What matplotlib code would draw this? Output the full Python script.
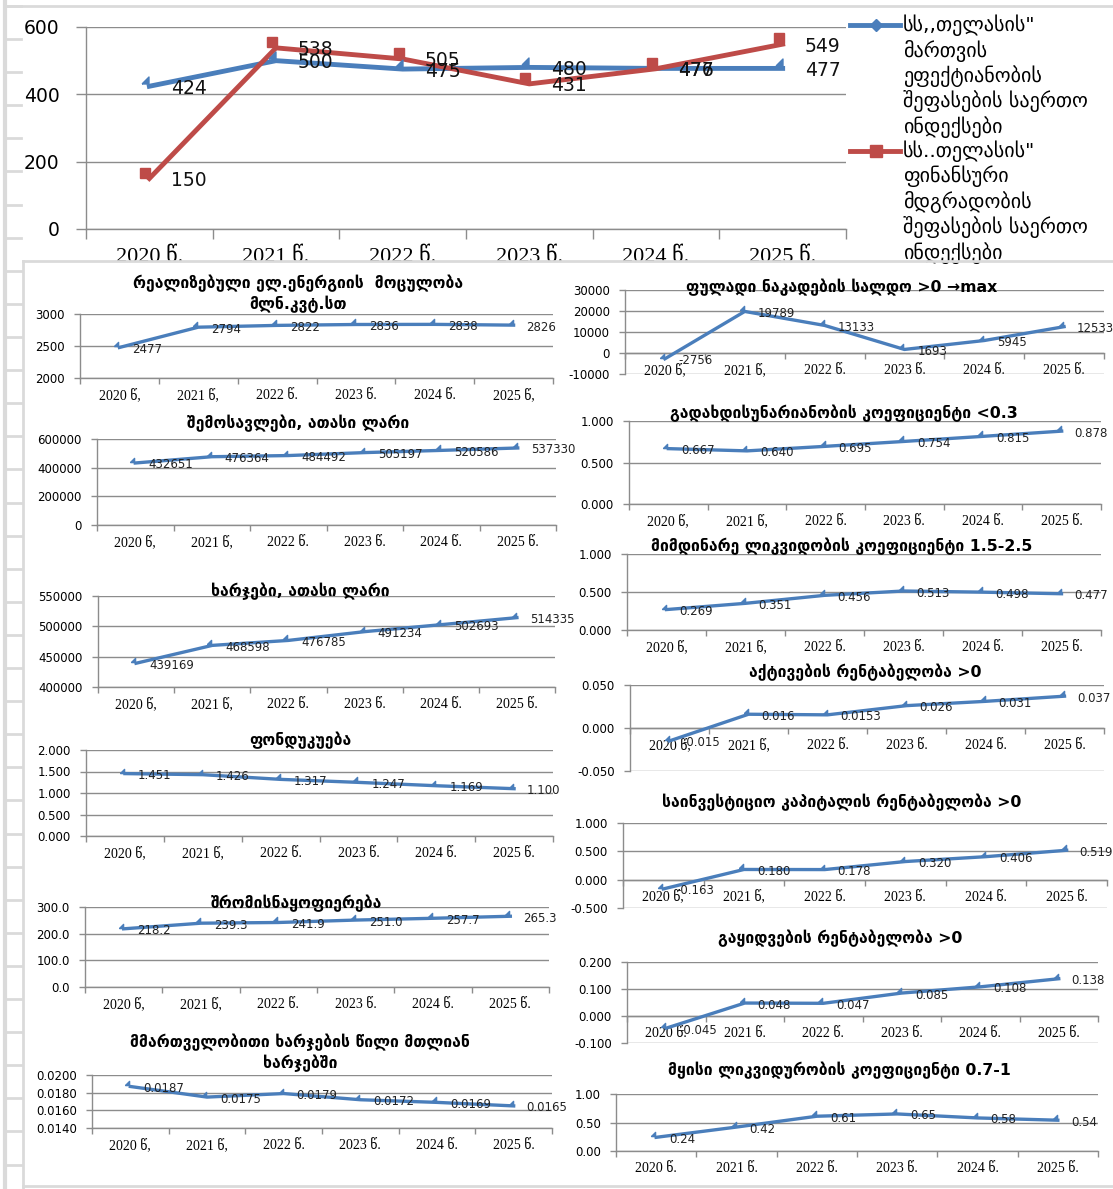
import matplotlib
matplotlib.use("Agg")
import matplotlib.pyplot as plt
from matplotlib.lines import Line2D
from matplotlib.patches import Rectangle
from matplotlib.transforms import offset_copy
from matplotlib.ticker import FixedLocator, FormatStrFormatter, NullFormatter

plt.rcParams['font.family'] = ['DejaVu Sans']

# ---- data ----
years_top = ["2020 წ.", "2021 წ.", "2022 წ.", "2023 წ.", "2024 წ.", "2025 წ."]
years_mix = ["2020 წ,", "2021 წ,", "2022 წ.", "2023 წ.", "2024 წ.", "2025 წ."]
years_elec = ["2020 წ,", "2021 წ,", "2022 წ.", "2023 წ.", "2024 წ.", "2025 წ,"]
years_dot = years_top

mgmt_index = [424, 500, 475, 480, 477, 477]
fin_index = [150, 538, 505, 431, 476, 549]
legend_mgmt = ['სს,,თელასის"', 'მართვის', 'ეფექტიანობის', 'შეფასების საერთო', 'ინდექსები']
legend_fin = ['სს..თელასის"', 'ფინანსური', 'მდგრადობის', 'შეფასების საერთო', 'ინდექსები']

electricity = [2477, 2794, 2822, 2836, 2838, 2826]
revenue = [432651, 476364, 484492, 505197, 520586, 537330]
expenses = [439169, 468598, 476785, 491234, 502693, 514335]
fund_return = [1.451, 1.426, 1.317, 1.247, 1.169, 1.100]
labor_prod = [218.2, 239.3, 241.9, 251.0, 257.7, 265.3]
mgmt_share = [0.0187, 0.0175, 0.0179, 0.0172, 0.0169, 0.0165]
cash_flow = [-2756, 19789, 13133, 1693, 5945, 12533]
solvency = [0.667, 0.640, 0.695, 0.754, 0.815, 0.878]
current_liq = [0.269, 0.351, 0.456, 0.513, 0.498, 0.477]
roa = [-0.015, 0.016, 0.0153, 0.026, 0.031, 0.037]
roic = [-0.163, 0.180, 0.178, 0.320, 0.406, 0.519]
ros = [-0.045, 0.048, 0.047, 0.085, 0.108, 0.138]
quick_liq = [0.24, 0.42, 0.61, 0.65, 0.58, 0.54]

W, H = 1113, 1189
BLUE = '#4A7EBB'
RED = '#BE4B48'
GRID = '#8C8C8C'
SHEET = '#DADADA'
YEAR_FONT = ['Liberation Serif', 'DejaVu Sans']

fig = plt.figure(figsize=(W / 100, H / 100), dpi=100)


def box(l, t, r, b):
    return [l / W, 1 - b / H, (r - l) / W, (b - t) / H]


def fx(x):
    return x / W


def fy(y):
    return 1 - y / H


wedge = [(-1, -1), (1, -1), (1, 1), (-1, -1)]


def style_axes(ax, cats, ylim, step, tick_fmt, fs, yearfs, tlen, ypad, xpad, zero_axis):
    # spine position first: moving it resets the tick settings
    if zero_axis:
        ax.spines['bottom'].set_position(('data', 0))
    lo, hi = ylim
    n = len(cats)
    ax.set_xlim(0, n)
    ax.set_ylim(lo, hi)
    yt = []
    v = lo
    while v <= hi + step * 1e-6:
        yt.append(v)
        v += step
    ax.yaxis.set_major_locator(FixedLocator(yt))
    ax.yaxis.set_major_formatter(FormatStrFormatter(tick_fmt))
    ax.grid(axis='y', color=GRID, lw=1)
    ax.set_axisbelow(True)
    ax.xaxis.set_major_locator(FixedLocator(range(n + 1)))
    ax.xaxis.set_major_formatter(NullFormatter())
    ax.xaxis.set_minor_locator(FixedLocator([i + 0.5 for i in range(n)]))
    ax.set_xticklabels(cats, minor=True, family=YEAR_FONT, fontsize=yearfs)
    ax.tick_params(axis='x', which='major', length=tlen, color=GRID, width=1)
    ax.tick_params(axis='x', which='minor', length=0, pad=xpad)
    ax.tick_params(axis='y', length=tlen, color=GRID, width=1, labelsize=fs, pad=ypad)
    for s in ('top', 'right'):
        ax.spines[s].set_visible(False)
    for s in ('left', 'bottom'):
        ax.spines[s].set_color(GRID)
        ax.spines[s].set_linewidth(1)
    ax.patch.set_alpha(0)


def small_chart(rect, title, title_xy, values, ylim, step, tick_fmt, label_fmt, cats,
                zero_axis=False):
    ax = fig.add_axes(box(*rect), zorder=2)
    style_axes(ax, cats, ylim, step, tick_fmt, 8.5, 10, 4, 7, 8, zero_axis)
    xs = [i + 0.5 for i in range(len(values))]
    ax.plot(xs, values, color=BLUE, lw=2.4, solid_joinstyle='round', zorder=3)
    mk = offset_copy(ax.transData, fig=fig, x=-3, y=3, units='dots')
    ax.plot(xs, values, ls='none', marker=wedge, ms=3, color=BLUE, transform=mk,
            clip_on=False, zorder=3)
    for x, v in zip(xs, values):
        ax.annotate(label_fmt.format(v), (x, v), xytext=(13, -2), textcoords='offset pixels',
                    ha='left', va='center', fontsize=8.5, color='#222222',
                    annotation_clip=False, zorder=4)
    fig.text(fx(title_xy[0]), fy(title_xy[1]), title, ha='center', va='center',
             fontsize=11.3, fontweight='bold', linespacing=1.3, zorder=4)
    return ax


# ---- top chart: overall indices ----
top = fig.add_axes(box(86, 27, 846, 229), zorder=0)
style_axes(top, years_top, (0, 600), 200, '%d', 13.5, 16, 7, 12, 13, False)
xs = [i + 0.5 for i in range(len(years_top))]
top.plot(xs, mgmt_index, color=BLUE, lw=3.5, solid_joinstyle='round', zorder=3)
top.plot(xs, fin_index, color=RED, lw=3.5, solid_joinstyle='round', zorder=3)
mk = offset_copy(top.transData, fig=fig, x=-4, y=6, units='dots')
top.plot(xs, mgmt_index, ls='none', marker=wedge, ms=5, color=BLUE, transform=mk, zorder=3)
top.plot(xs, fin_index, ls='none', marker='s', ms=6.5, color=RED, transform=mk, zorder=3)
for series in (mgmt_index, fin_index):
    for x, v in zip(xs, series):
        top.annotate(str(v), (x, v), xytext=(22, -2), textcoords='offset pixels',
                     ha='left', va='center', fontsize=13.5, color='#111111', zorder=4)

# legend drawn beside the plot area
for y0, color, marker, ms, lines in ((25, BLUE, 'D', 6, legend_mgmt),
                                     (151, RED, 's', 9, legend_fin)):
    fig.add_artist(Line2D([fx(850), fx(900)], [fy(y0), fy(y0)], color=color, lw=3.5))
    fig.add_artist(Line2D([fx(876)], [fy(y0)], color=color, marker=marker, ms=ms, ls='none'))
    for i, line in enumerate(lines):
        fig.text(fx(903), fy(y0 + i * 25.5), line, ha='left', va='center', fontsize=14.5)

# lower panel covers the bottom of the top chart
fig.add_artist(Rectangle((0, 0), 1, fy(262), transform=fig.transFigure,
                         facecolor='white', edgecolor='none', zorder=1))

# spreadsheet cell lines around the panels
fig.add_artist(Line2D([fx(5), fx(5)], [0, 1], color=SHEET, lw=3, zorder=5))
fig.add_artist(Line2D([fx(23), fx(23)], [0, fy(261)], color=SHEET, lw=2, zorder=5))
fig.add_artist(Line2D([fx(23), 1], [fy(261), fy(261)], color=SHEET, lw=2, zorder=5))
fig.add_artist(Line2D([fx(5), 1], [fy(6), fy(6)], color=SHEET, lw=2, zorder=5))
fig.add_artist(Line2D([fx(23), 1], [fy(1186), fy(1186)], color=SHEET, lw=2, zorder=5))
k = 0
while 6 + 33.1 * k < H:
    yy = 6 + 33.1 * k
    fig.add_artist(Line2D([fx(5), fx(21)], [fy(yy), fy(yy)], color=SHEET, lw=2, zorder=5))
    k += 1

# ---- left column ----
small_chart((80, 314, 553, 378), "რეალიზებული ელ.ენერგიის  მოცულობა\nმლნ.კვტ.სთ", (298, 294),
            electricity, (2000, 3000), 500, '%d', '{:d}', years_elec)
small_chart((97, 439, 556, 525), "შემოსავლები, ათასი ლარი", (298, 423),
            revenue, (0, 600000), 200000, '%d', '{:d}', years_mix)
small_chart((98, 596, 555, 687), "ხარჯები, ათასი ლარი", (300, 591),
            expenses, (400000, 550000), 50000, '%d', '{:d}', years_mix)
small_chart((86, 750, 553, 836), "ფონდუკუება", (300, 740),
            fund_return, (0, 2), 0.5, '%.3f', '{:.3f}', years_mix)
small_chart((85, 907, 549, 987), "შრომისნაყოფიერება", (296, 903),
            labor_prod, (0, 300), 100, '%.1f', '{:.1f}', years_mix)
small_chart((92, 1075, 552, 1128), "მმართველობითი ხარჯების წილი მთლიან\nხარჯებში", (300, 1053),
            mgmt_share, (0.014, 0.020), 0.002, '%.4f', '{:.4f}', years_mix)

# ---- right column ----
small_chart((625, 290, 1104, 374), "ფულადი ნაკადების სალდო >0 →max", (842, 287),
            cash_flow, (-10000, 30000), 10000, '%d', '{:d}', years_mix, zero_axis=True)
small_chart((629, 421, 1101, 504), "გადახდისუნარიანობის კოეფიციენტი <0.3", (844, 413),
            solvency, (0, 1), 0.5, '%.3f', '{:.3f}', years_mix)
small_chart((627, 554, 1101, 630), "მიმდინარე ლიკვიდობის კოეფიციენტი 1.5-2.5", (842, 546),
            current_liq, (0, 1), 0.5, '%.3f', '{:.3f}', years_mix)
small_chart((630, 685, 1104, 771), "აქტივების რენტაბელობა >0", (865, 672),
            roa, (-0.05, 0.05), 0.05, '%.3f', '{:g}', years_mix, zero_axis=True)
small_chart((623, 823, 1107, 908), "საინვესტიციო კაპიტალის რენტაბელობა >0", (842, 802),
            roic, (-0.5, 1.0), 0.5, '%.3f', '{:.3f}', years_mix, zero_axis=True)
small_chart((627, 962, 1098, 1043), "გაყიდვების რენტაბელობა >0", (840, 938),
            ros, (-0.1, 0.2), 0.1, '%.3f', '{:.3f}', years_dot, zero_axis=True)
small_chart((616, 1094, 1098, 1151), "მყისი ლიკვიდურობის კოეფიციენტი 0.7-1", (839, 1070),
            quick_liq, (0, 1), 0.5, '%.2f', '{:.2f}', years_dot)

fig.savefig('out.png', dpi=100)
